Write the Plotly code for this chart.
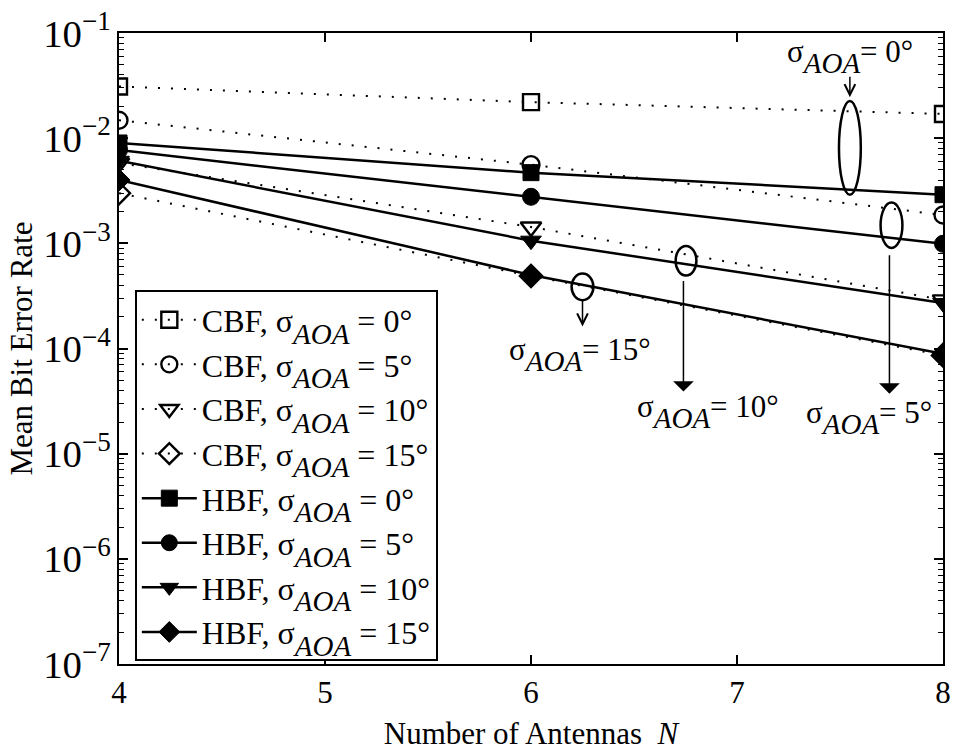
import plotly.graph_objects as go

# Number of antennas
antennas = [4, 6, 8]

# Mean BER, conventional beamforming (CBF)
cbf_0 = [0.031, 0.022, 0.017]
cbf_5 = [0.0148, 0.0056, 0.00186]
cbf_10 = [0.0058, 0.00143, 0.00029]
cbf_15 = [0.0030, 0.00049, 0.000086]

# Mean BER, hybrid beamforming (HBF)
hbf_0 = [0.0090, 0.0047, 0.0029]
hbf_5 = [0.0077, 0.00277, 0.00099]
hbf_10 = [0.0061, 0.00106, 0.00027]
hbf_15 = [0.0040, 0.00050, 0.000089]

spreads = [0, 5, 10, 15]
cbf_series = [cbf_0, cbf_5, cbf_10, cbf_15]
hbf_series = [hbf_0, hbf_5, hbf_10, hbf_15]
cbf_symbols = ["square-open", "circle-open", "triangle-down-open", "diamond-open"]
hbf_symbols = ["square", "circle", "triangle-down", "diamond"]
marker_sizes = [16, 17, 18, 17]

FONT = "Liberation Serif, Times New Roman, serif"
TXT = 31
LEG = 32
ANN = 31


def sigma(size):
    """σ with a large, well-lowered italic AOA subscript."""
    return (f'σ<sub><sub><span style="font-size:{size}px">'
            f'<i>AOA</i></span></sub></sub>')


fig = go.Figure()

for s, ys, sym, ms in zip(spreads, cbf_series, cbf_symbols, marker_sizes):
    fig.add_trace(go.Scatter(
        x=antennas, y=ys, mode="lines+markers",
        name=f"CBF, {sigma(LEG - 3)} = {s}°",
        line=dict(color="black", width=2, dash="2px,11px"),
        marker=dict(symbol=sym, size=ms, color="black",
                    line=dict(color="black", width=2.4)),
    ))

for s, ys, sym, ms in zip(spreads, hbf_series, hbf_symbols, marker_sizes):
    fig.add_trace(go.Scatter(
        x=antennas, y=ys, mode="lines+markers",
        name=f"HBF, {sigma(LEG - 3)} = {s}°",
        line=dict(color="black", width=2.5),
        marker=dict(symbol=sym, size=ms, color="black",
                    line=dict(color="black", width=1)),
    ))

# Ellipses grouping the curves for each angular spread: (x0, x1, y_low, y_high)
ellipses = [
    (7.495, 7.601, 0.00290, 0.02254),
    (7.697, 7.803, 0.000904, 0.002443),
    (6.702, 6.803, 0.000494, 0.000944),
    (6.197, 6.303, 0.000288, 0.000516),
]
for x0, x1, y0, y1 in ellipses:
    fig.add_shape(type="circle", xref="x", yref="y",
                  x0=x0, x1=x1, y0=y0, y1=y1,
                  line=dict(color="black", width=2.5))

# Arrows: tip position (x, log10 y), length in px, head style
arrows = [
    (7.548, -1.61, 22, 5),
    (7.74, -4.43, 140, 1),
    (6.74, -4.41, 112, 1),
    (6.25, -3.79, 27, 5),
]
for ax_x, ax_y, length, head in arrows:
    fig.add_annotation(x=ax_x, y=ax_y, xref="x", yref="y", text="",
                       showarrow=True, ax=0, ay=-length,
                       arrowhead=head, arrowsize=2.3 if head == 1 else 1.4,
                       arrowwidth=1.5, arrowcolor="black")

# Labels for each group: (x, log10 y, spread)
labels = [
    (7.55, -1.22, 0),
    (7.64, -4.66, 5),
    (6.86, -4.60, 10),
    (6.24, -4.06, 15),
]
for lx, ly, s in labels:
    fig.add_annotation(x=lx, y=ly, xref="x", yref="y",
                       text=f"{sigma(ANN - 2)}= {s}°", showarrow=False,
                       font=dict(family=FONT, size=ANN, color="black"))

axis_common = dict(
    showline=True, linecolor="black", linewidth=2, mirror="ticks",
    ticks="inside", tickcolor="black", tickwidth=1.5, ticklen=9,
    showgrid=False, zeroline=False,
    tickfont=dict(family=FONT, size=31, color="black"),
)

fig.update_xaxes(range=[4, 8], tickvals=[4, 5, 6, 7, 8],
                 title=dict(text="Number of Antennas  <i>N</i>",
                            font=dict(family=FONT, size=TXT, color="black"),
                            standoff=13),
                 **axis_common)
fig.update_yaxes(type="log", range=[-7, -1], dtick=1, exponentformat="power",
                 minor=dict(ticks="inside", ticklen=5, tickcolor="black",
                            tickwidth=1, dtick="D1", showgrid=False),
                 title=dict(text="Mean Bit Error Rate",
                            font=dict(family=FONT, size=TXT, color="black"),
                            standoff=1),
                 **axis_common)

fig.update_layout(
    width=957, height=751,
    margin=dict(l=119, r=6, t=31, b=80),
    plot_bgcolor="white", paper_bgcolor="white",
    font=dict(family=FONT, size=TXT, color="black"),
    legend=dict(x=0.0192, y=0.592, xanchor="left", yanchor="top",
                bgcolor="white", bordercolor="black", borderwidth=2,
                font=dict(family=FONT, size=LEG, color="black"),
                tracegroupgap=0, itemwidth=55),
    showlegend=True,
)

fig.write_html("out.html")
